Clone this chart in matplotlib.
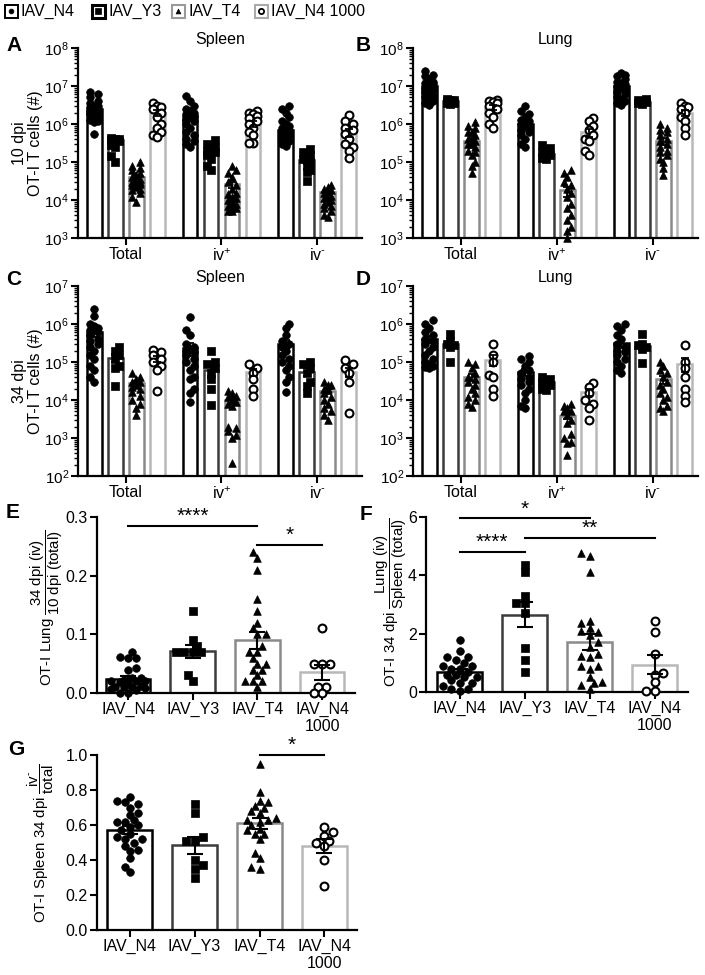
import numpy as np
import matplotlib
matplotlib.use('Agg')
import matplotlib.pyplot as plt
from matplotlib.ticker import LogLocator, NullFormatter, LogFormatterSciNotation
from matplotlib.patches import Rectangle

plt.rcParams['font.family'] = ['Liberation Sans', 'DejaVu Sans']
plt.rcParams['mathtext.fontset'] = 'custom'
plt.rcParams['mathtext.rm'] = 'Liberation Sans'
plt.rcParams['mathtext.it'] = 'Liberation Sans:italic'
plt.rcParams['mathtext.bf'] = 'Liberation Sans:bold'
plt.rcParams['mathtext.default'] = 'regular'

# ---------------- data ----------------
groups = ['IAV_N4', 'IAV_Y3', 'IAV_T4', 'IAV_N4 1000']
subsets = ['Total', 'iv$^{+}$', r'iv$^{\text{-}}$']
cat_labels = ['IAV_N4', 'IAV_Y3', 'IAV_T4', 'IAV_N4\n1000']

# Panel A: Spleen 10 dpi
spleen10_total = [[7e6, 6e6, 5e6, 4e6, 3.5e6, 3e6, 3e6, 2.8e6, 2.5e6, 2.5e6, 2.2e6, 2e6, 2e6, 1.8e6, 1.6e6, 1.5e6, 1.3e6, 1.2e6, 1.1e6, 5.5e5],
                  [4.2e5, 4e5, 4e5, 3.8e5, 3.5e5, 2.8e5, 2.5e5, 1.4e5, 1e5],
                  [1e5, 8e4, 7e4, 6e4, 5e4, 4.5e4, 4e4, 3.5e4, 3.2e4, 3e4, 3e4, 2.8e4, 2.6e4, 2.5e4, 2.2e4, 2e4, 1.8e4, 1.5e4, 1.2e4, 9e3],
                  [3.5e6, 3e6, 2.8e6, 2.5e6, 2e6, 1.5e6, 1e6, 8e5, 6e5, 5e5, 4.5e5]]
spleen10_ivpos = [[5.5e6, 4e6, 3e6, 2.5e6, 2.2e6, 2e6, 1.8e6, 1.8e6, 1.6e6, 1.5e6, 1.3e6, 1.2e6, 1e6, 8e5, 6e5, 5e5, 4e5, 3.5e5, 3e5, 2.5e5],
                  [3.8e5, 3e5, 2.5e5, 2e5, 1.8e5, 1.5e5, 1.2e5, 8e4, 6e4],
                  [8e4, 6e4, 5e4, 4e4, 3e4, 2.5e4, 2e4, 1.5e4, 1.4e4, 1.2e4, 1.1e4, 1e4, 9e3, 8e3, 7e3, 7e3, 6e3, 6e3, 5e3, 5e3],
                  [2.2e6, 2e6, 1.8e6, 1.6e6, 1.4e6, 1.2e6, 1e6, 8e5, 6e5, 5e5, 3.2e5, 3.2e5]]
spleen10_ivneg = [[3e6, 2.5e6, 2e6, 1.5e6, 1.2e6, 1e6, 9e5, 8e5, 8e5, 7e5, 7e5, 6.5e5, 6e5, 6e5, 5.5e5, 5e5, 4.5e5, 4e5, 3.5e5, 3e5, 2.7e5],
                  [2.2e5, 1.8e5, 1.5e5, 1.2e5, 1e5, 8e4, 6e4, 5.5e4, 3.2e4],
                  [2.5e4, 2.2e4, 2e4, 1.8e4, 1.6e4, 1.5e4, 1.3e4, 1.2e4, 1.1e4, 1e4, 9e3, 8e3, 7e3, 6e3, 5e3, 4e3, 3.5e3],
                  [1.7e6, 1.2e6, 1e6, 8e5, 7e5, 5.5e5, 4e5, 3e5, 2.5e5, 2e5, 1.3e5]]
spleen10_bars = [[2.5e6, 3.8e5, 4e4, 2e6], [1.6e6, 1.9e5, 2.5e4, 1e6], [7e5, 1.1e5, 1.5e4, 6e5]]

# Panel B: Lung 10 dpi
lung10_total = [[2.5e7, 2e7, 1.8e7, 1.5e7, 1.3e7, 1.2e7, 1.2e7, 1.1e7, 1e7, 9e6, 8e6, 8e6, 7e6, 6e6, 5.5e6, 5e6, 4.5e6, 4e6, 3.5e6, 3.2e6],
                [4.5e6, 4.3e6, 4.2e6, 4e6, 3.8e6, 3.6e6, 3.5e6, 3.3e6],
                [1.1e6, 9e5, 8e5, 6e5, 6e5, 5e5, 4e5, 4e5, 3.5e5, 3e5, 3e5, 2.5e5, 2e5, 1.8e5, 1.5e5, 1e5, 8e4, 5e4],
                [4.2e6, 4e6, 3.8e6, 3.5e6, 3e6, 2.5e6, 2e6, 1.5e6, 1e6, 8e5]]
lung10_ivpos = [[3e6, 2.2e6, 1.8e6, 1.5e6, 1.3e6, 1.2e6, 1e6, 9e5, 8e5, 7e5, 6e5, 5e5, 4e5, 3e5, 2.5e5],
                [2.8e5, 2.3e5, 1.8e5, 1.5e5, 1.3e5, 1.2e5],
                [6e4, 5e4, 4e4, 3e4, 2.5e4, 2e4, 1.5e4, 1.2e4, 8e3, 6e3, 4e3, 3e3, 2e3, 1.5e3, 1e3],
                [1.4e6, 1.2e6, 9e5, 7e5, 5e5, 4e5, 3.5e5, 2e5, 1.5e5]]
lung10_ivneg = [[2.2e7, 2e7, 1.8e7, 1.5e7, 1.3e7, 1.2e7, 1.1e7, 1e7, 9e6, 8e6, 7e6, 6e6, 5e6, 4.5e6, 4e6, 3.5e6, 3.2e6],
                [4.5e6, 4.3e6, 4e6, 3.8e6, 3.5e6, 3.3e6],
                [1e6, 8e5, 7e5, 6e5, 5e5, 4e5, 3.5e5, 3e5, 2.5e5, 2e5, 1.8e5, 1.5e5, 1.2e5, 1e5, 7e4, 4.5e4],
                [3.5e6, 3e6, 2.8e6, 2.5e6, 2e6, 1.5e6, 1.2e6, 8e5, 5e5]]
lung10_bars = [[1e7, 4e6, 3.5e5, 2.7e6], [1e6, 1.6e5, 1.7e4, 6e5], [1e7, 3.8e6, 3.5e5, 2e6]]

# Panel C: Spleen 34 dpi
spleen34_total = [[2.5e6, 1.6e6, 1e6, 9e5, 8e5, 7e5, 7e5, 6e5, 5e5, 4e5, 3.5e5, 3e5, 2.5e5, 2e5, 1.5e5, 1.2e5, 8e4, 6e4, 4e4, 3e4],
                  [2.5e5, 2e5, 1.5e5, 1.2e5, 8e4, 7e4, 2.3e4],
                  [5e4, 4e4, 3.5e4, 3e4, 3e4, 2.5e4, 2.2e4, 2e4, 1.6e4, 1.3e4, 1e4, 8e3, 6e3, 4e3],
                  [2.1e5, 1.8e5, 1.5e5, 1.2e5, 1e5, 8e4, 6e4, 1.7e4]]
spleen34_ivpos = [[1.5e6, 7e5, 5e5, 3e5, 2.5e5, 2e5, 1.8e5, 1.5e5, 1.2e5, 1e5, 8e4, 6e4, 4e4, 3.5e4, 2e4, 1.5e4, 9e3],
                  [2e5, 1e5, 9e4, 7e4, 5e4, 3.5e4, 2e4, 7.5e3],
                  [1.7e4, 1.5e4, 1.3e4, 1.2e4, 1e4, 9e3, 8e3, 7e3, 2e3, 1.8e3, 1.5e3, 1.2e3, 1e3, 2.2e2],
                  [9e4, 7e4, 5e4, 3.5e4, 2e4, 1.3e4]]
spleen34_ivneg = [[1e6, 8e5, 5e5, 3.5e5, 3e5, 2.5e5, 2e5, 1.5e5, 1.2e5, 1e5, 8e4, 6e4, 4e4, 3e4, 1.6e4],
                  [1e5, 9e4, 7e4, 5e4, 3e4, 2.3e4, 1.5e4],
                  [3e4, 2.5e4, 2.5e4, 2e4, 2e4, 1.5e4, 1.2e4, 1e4, 8e3, 6e3, 5e3, 4e3, 3e3],
                  [1.1e5, 9e4, 7e4, 5e4, 3e4, 4.5e3]]
spleen34_bars = [[6e5, 1.3e5, 2.8e4, 1.2e5], [2.3e5, 6e4, 1e4, 5.5e4], [3e5, 5.5e4, 1.7e4, 5.5e4]]

# Panel D: Lung 34 dpi
lung34_total = [[1.3e6, 1e6, 8e5, 6e5, 5e5, 4e5, 3.5e5, 3e5, 2.5e5, 2e5, 1.5e5, 1.2e5, 1e5, 9e4, 8e4, 7.5e4, 7e4],
                [5.5e5, 3.5e5, 3e5, 2.8e5, 2.5e5, 1e5],
                [1e5, 9e4, 7e4, 5e4, 4e4, 3.5e4, 3e4, 2.5e4, 2e4, 1.5e4, 1.2e4, 1e4, 8e3, 6.5e3],
                [3e5, 1.5e5, 1e5, 4.5e4, 4e4, 2e4, 1.3e4]]
lung34_ivpos = [[1.4e5, 1.2e5, 1e5, 8e4, 6e4, 5e4, 4e4, 3.5e4, 3e4, 2.5e4, 2e4, 1.5e4, 1e4, 7e3, 6e3],
                [4e4, 3.5e4, 3e4, 2.5e4, 2e4, 1.8e4],
                [8e3, 7e3, 6e3, 5e3, 5e3, 4e3, 3e3, 2.5e3, 1.3e3, 1e3, 8e2, 7.5e2, 3.5e2],
                [2.8e4, 2.2e4, 1.5e4, 1e4, 8e3, 6e3, 3e3]]
lung34_ivneg = [[1e6, 9e5, 7e5, 5e5, 4e5, 3e5, 2.5e5, 2e5, 1.8e5, 1.5e5, 1.2e5, 1e5, 8e4, 6e4, 5e4],
                [5.5e5, 3e5, 2.8e5, 2.5e5, 2.2e5, 9.5e4],
                [1e5, 8e4, 6e4, 5e4, 4e4, 3e4, 2.5e4, 2e4, 1.5e4, 1.2e4, 1e4, 7e3, 6e3, 5e3],
                [2.8e5, 1e5, 7e4, 4e4, 2e4, 1.3e4, 9e3]]
lung34_bars = [[4e5, 3e5, 4e4, 1.15e5], [5.5e4, 3e4, 3.8e3, 1.6e4], [3.2e5, 2.7e5, 3.5e4, 9e4]]

# Panel E: OT-I Lung 34 dpi (iv) / 10 dpi (total)
ratioE_n4 = [0.07, 0.061, 0.06, 0.06, 0.042, 0.04, 0.025, 0.025, 0.022, 0.02, 0.02, 0.02, 0.018,
             0.015, 0.012, 0.01, 0.01, 0.01, 0.008, 0.006, 0.005, 0.0, 0.0]
ratioE_y3 = [0.14, 0.09, 0.08, 0.07, 0.07, 0.07, 0.07, 0.03, 0.02]
ratioE_t4 = [0.24, 0.23, 0.21, 0.16, 0.14, 0.12, 0.11, 0.10, 0.10, 0.08, 0.07, 0.07, 0.06, 0.05,
             0.05, 0.04, 0.04, 0.03, 0.02, 0.02, 0.02, 0.01]
ratioE_n41000 = [0.11, 0.05, 0.05, 0.05, 0.01, 0.01, 0.0, 0.0]

# Panel F: OT-I 34 dpi Lung (iv) / Spleen (total)
ratioF_n4 = [1.8, 1.4, 1.2, 1.2, 1.1, 1.0, 0.9, 0.9, 0.8, 0.8, 0.7, 0.6, 0.6, 0.5, 0.5, 0.4, 0.3,
             0.3, 0.2, 0.1, 0.1, 0.05]
ratioF_y3 = [4.35, 4.1, 3.3, 3.05, 3.05, 2.7, 1.5, 1.1, 0.7]
ratioF_t4 = [4.75, 4.65, 4.1, 2.45, 2.35, 2.2, 2.1, 2.05, 1.95, 1.7, 1.55, 1.3, 1.25, 1.2, 0.9,
             0.9, 0.8, 0.5, 0.35, 0.3, 0.25, 0.1]
ratioF_n41000 = [2.45, 2.05, 1.3, 0.65, 0.6, 0.35, 0.05, 0.05]

# Panel G: OT-I Spleen 34 dpi iv- / total
ratioG_n4 = [0.76, 0.74, 0.73, 0.72, 0.70, 0.67, 0.66, 0.63, 0.62, 0.62, 0.60, 0.59, 0.57, 0.55,
             0.53, 0.52, 0.52, 0.50, 0.48, 0.46, 0.45, 0.41, 0.36, 0.33]
ratioG_y3 = [0.72, 0.67, 0.53, 0.51, 0.51, 0.40, 0.37, 0.35, 0.30]
ratioG_t4 = [0.95, 0.79, 0.74, 0.73, 0.71, 0.70, 0.68, 0.67, 0.64, 0.63, 0.63, 0.62, 0.60, 0.58,
             0.57, 0.55, 0.55, 0.52, 0.44, 0.41, 0.36, 0.35]
ratioG_n41000 = [0.59, 0.56, 0.54, 0.51, 0.50, 0.48, 0.40, 0.25]

# ---------------- styles ----------------
edge_cols = ['#000000', '#3c3c3c', '#8a8a8a', '#b8b8b8']
mk = [dict(marker='o', facecolor='black', edgecolor='black', linewidths=0.5, s=30),
      dict(marker='s', facecolor='black', edgecolor='black', linewidths=0.5, s=26),
      dict(marker='^', facecolor='black', edgecolor='black', linewidths=0.5, s=30),
      dict(marker='o', facecolor='white', edgecolor='black', linewidths=1.5, s=32)]

W, H = 705, 975
fig = plt.figure(figsize=(W / 100, H / 100), dpi=100)


def pos(l, r, t, b):
    return [l / W, 1 - b / H, (r - l) / W, (b - t) / H]


def style_axes(ax, labelsize=11.5):
    for s in ['top', 'right']:
        ax.spines[s].set_visible(False)
    for s in ['left', 'bottom']:
        ax.spines[s].set_linewidth(1.6)
    ax.tick_params(axis='both', which='major', width=1.5, length=5, labelsize=labelsize, pad=1.5)
    ax.tick_params(axis='y', which='minor', width=1.0, length=3)
    ax.tick_params(axis='x', which='minor', length=0)


def swarm_x(ax, xc, vals, half_px, diam_px):
    trans = ax.transData
    disp = np.array([trans.transform((xc, v)) for v in vals])
    xc_d = disp[0, 0]
    ys = disp[:, 1]
    order = np.argsort(ys)
    step = diam_px * 0.6
    cands = [0.0]
    k = 1
    while k * step <= half_px + 1e-6:
        cands += [k * step, -k * step]
        k += 1
    placed = []
    dx = np.zeros(len(vals))
    for n, i in enumerate(order):
        y = ys[i]
        cc = cands if n % 2 == 0 else [cands[0]] + [c for pair in zip(cands[2::2], cands[1::2]) for c in pair]
        chosen, best, bestc = None, -1, 0.0
        for c in cc:
            md = min([np.hypot(c - px, y - py) for px, py in placed] or [1e9])
            if md >= diam_px * 0.9:
                chosen = c
                break
            if md > best:
                best, bestc = md, c
        if chosen is None:
            chosen = bestc
        placed.append((chosen, y))
        dx[i] = chosen
    inv = trans.inverted()
    return [inv.transform((xc_d + dx[j], ys[j]))[0] for j in range(len(vals))]


def sem(v):
    v = np.asarray(v, float)
    return v.std(ddof=1) / np.sqrt(len(v))


def log_panel(rect, sets, bars, ylo, yhi, title, ylabel):
    ax = fig.add_axes(pos(*rect))
    ax.set_yscale('log')
    ax.set_ylim(ylo, yhi)
    ax.set_xlim(-0.5, 2.47)
    style_axes(ax)
    ax.tick_params(axis='y', which='major', labelsize=11)
    ax.yaxis.set_major_locator(LogLocator(base=10, numticks=20))
    ax.yaxis.set_minor_locator(LogLocator(base=10, subs=np.arange(2, 10), numticks=20))
    ax.yaxis.set_major_formatter(LogFormatterSciNotation())
    ax.yaxis.set_minor_formatter(NullFormatter())
    ax.set_xticks(range(len(subsets)))
    ax.set_xticklabels(subsets, fontsize=11.5)
    offs = np.array([-1.5, -0.5, 0.5, 1.5]) * 0.22
    bw = 0.152
    for si, (sv, bv) in enumerate(zip(sets, bars)):
        for gi in range(4):
            x = si + offs[gi]
            ax.bar(x, bv[gi], width=bw, bottom=ylo, facecolor='white', edgecolor=edge_cols[gi],
                   linewidth=1.8, zorder=2)
            xs = swarm_x(ax, x, sv[gi], 7.0, 6.5)
            ax.scatter(xs, sv[gi], zorder=3, clip_on=False, **mk[gi])
            e = sem(sv[gi])
            lo = min(e, bv[gi] * 0.6)
            ax.errorbar(x, bv[gi], yerr=[[lo], [e]], fmt='none', ecolor='black', elinewidth=1.3,
                        capsize=3, capthick=1.3, zorder=4)
    ax.set_title(title, fontsize=11.5, pad=3)
    ax.set_ylabel(ylabel, fontsize=11.5, labelpad=1, linespacing=1.05)
    return ax


log_panel((78, 362, 48, 238), [spleen10_total, spleen10_ivpos, spleen10_ivneg], spleen10_bars,
          1e3, 1e8, 'Spleen', '10 dpi\nOT-I T cells (#)')
log_panel((413, 698, 48, 238), [lung10_total, lung10_ivpos, lung10_ivneg], lung10_bars,
          1e3, 1e8, 'Lung', '')
log_panel((78, 362, 286, 476), [spleen34_total, spleen34_ivpos, spleen34_ivneg], spleen34_bars,
          1e2, 1e7, 'Spleen', '34 dpi\nOT-I T cells (#)')
log_panel((413, 698, 286, 476), [lung34_total, lung34_ivpos, lung34_ivneg], lung34_bars,
          1e2, 1e7, 'Lung', '')


def ratio_panel(rect, data, ylim, yticks, ytl, xlim, sigs):
    ax = fig.add_axes(pos(*rect))
    ax.set_ylim(*ylim)
    ax.set_xlim(*xlim)
    style_axes(ax)
    ax.set_yticks(yticks)
    ax.set_yticklabels(ytl)
    ax.set_xticks(range(4))
    ax.set_xticklabels(cat_labels, fontsize=11.5, linespacing=1.15)
    for gi, vals in enumerate(data):
        m = np.mean(vals)
        ax.bar(gi, m, width=0.69, facecolor='white', edgecolor=edge_cols[gi], linewidth=1.8, zorder=2)
        xs = swarm_x(ax, gi, vals, 20.0, 7.0)
        ax.scatter(xs, vals, zorder=3, clip_on=False, **mk[gi])
        ax.errorbar(gi, m, yerr=sem(vals), fmt='none', ecolor='black', elinewidth=1.5,
                    capsize=6, capthick=1.5, zorder=4)
    for (x1, x2, y, txt) in sigs:
        ax.plot([x1, x2], [y, y], color='black', lw=1.5, clip_on=False, zorder=5)
        ax.text((x1 + x2) / 2, y, txt, ha='center', va='bottom', fontsize=15)
    return ax


ratio_panel((97, 355, 517, 693), [ratioE_n4, ratioE_y3, ratioE_t4, ratioE_n41000],
            (0, 0.3), [0, 0.1, 0.2, 0.3], ['0.0', '0.1', '0.2', '0.3'], (-0.48, 3.51),
            [(0, 2, 0.285, '****'), (2, 3, 0.252, '*')])
ratio_panel((426, 688, 517, 692), [ratioF_n4, ratioF_y3, ratioF_t4, ratioF_n41000],
            (0, 6), [0, 2, 4, 6], ['0', '2', '4', '6'], (-0.52, 3.51),
            [(0, 2, 5.95, '*'), (1, 3, 5.28, '**'), (0, 1, 4.8, '****')])
ratio_panel((97, 357, 755, 930), [ratioG_n4, ratioG_y3, ratioG_t4, ratioG_n41000],
            (0, 1.0), [0, 0.2, 0.4, 0.6, 0.8, 1.0], ['0.0', '0.2', '0.4', '0.6', '0.8', '1.0'],
            (-0.5, 3.5), [(2, 3, 1.0, '*')])

# y labels with fractions (rotated, anchored at start of baseline)
for txt, xb, ystart in [
        (r'OT-I Lung$\;\dfrac{\mathrm{34\ dpi\ (iv)}}{\mathrm{10\ dpi\ (total)}}$', 52, 686),
        (r'OT-I 34 dpi$\;\dfrac{\mathrm{Lung\ (iv)}}{\mathrm{Spleen\ (total)}}$', 396, 687),
        (r'OT-I Spleen 34 dpi$\;\dfrac{\mathrm{iv}^{\text{-}}}{\mathrm{total}}$', 46, 923)]:
    fig.text(xb / W, 1 - ystart / H, txt, rotation=90, rotation_mode='anchor', ha='left',
             va='baseline', fontsize=10.8)

# panel letters
for letter, x, y in [('A', 6, 36), ('B', 356, 36), ('C', 6, 270), ('D', 356, 270),
                     ('E', 6, 503), ('F', 360, 505), ('G', 8, 740)]:
    fig.text(x / W, 1 - y / H, letter, fontsize=15, fontweight='bold', va='top', ha='left')

# legend (drawn in a pixel-unit overlay)
lax = fig.add_axes([0, 0, 1, 1], zorder=-1)
lax.set_xlim(0, W)
lax.set_ylim(H, 0)
lax.axis('off')
leg_box_x = [11, 98, 178, 261]
leg_text_x = [21, 108, 188, 271]
leg_box_edge = ['#000000', '#000000', '#9a9a9a', '#aaaaaa']
leg_box_lw = [1.4, 2.2, 1.5, 1.5]
leg_inner = [dict(marker='o', s=12, facecolor='black', edgecolor='black', linewidths=0.5),
             dict(marker='s', s=14, facecolor='black', edgecolor='black', linewidths=0.5),
             dict(marker='^', s=12, facecolor='black', edgecolor='black', linewidths=0.5),
             dict(marker='o', s=14, facecolor='white', edgecolor='black', linewidths=1.3)]
for i, g in enumerate(groups):
    lax.add_patch(Rectangle((leg_box_x[i] - 6.5, 4.5), 13, 13, facecolor='white',
                            edgecolor=leg_box_edge[i], linewidth=leg_box_lw[i]))
    lax.scatter([leg_box_x[i]], [11], **leg_inner[i])
    lax.text(leg_text_x[i], 11.5, g, fontsize=11.5, va='center', ha='left')

fig.savefig('out.png', dpi=100)
